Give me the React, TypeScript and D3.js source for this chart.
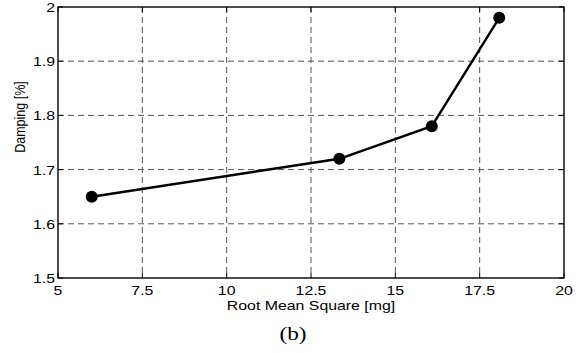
import * as d3 from 'd3';
import React, { useEffect, useRef } from 'react';

// data
const rms = [6.0, 13.34, 16.08, 18.08];
const damping = [1.65, 1.72, 1.78, 1.98];
const xTicks = [5, 7.5, 10, 12.5, 15, 17.5, 20];
const yTicks = [1.5, 1.6, 1.7, 1.8, 1.9, 2];

const W = 582;
const H = 353;

export default function App() {
  const ref = useRef<SVGSVGElement>(null);

  useEffect(() => {
    const svg = d3.select(ref.current);
    svg.selectAll('*').remove();

    // plot box
    const left = 58, right = 564, top = 7, bottom = 278;

    const x = d3.scaleLinear().domain([5, 20]).range([left, right]);
    const y = d3.scaleLinear().domain([1.5, 2]).range([bottom, top]);

    const font = 'Liberation Sans, Arial, sans-serif';
    const sx = 1.22; // the original figure is stretched sideways

    // horizontal text, stretched like the source image
    const label = (tx: number, ty: number, str: string, anchor: string, size: number, family = font) => {
      svg.append('text')
        .attr('transform', `translate(${tx},${ty})scale(${sx},1)`)
        .attr('text-anchor', anchor)
        .attr('font-family', family)
        .attr('font-size', size)
        .text(str);
    };

    // grid
    const grid = svg.append('g')
      .attr('stroke', '#555')
      .attr('stroke-width', 1)
      .attr('stroke-dasharray', '6,4');

    xTicks.slice(1, -1).forEach(t => {
      grid.append('line')
        .attr('x1', x(t)).attr('x2', x(t))
        .attr('y1', top).attr('y2', bottom);
    });
    yTicks.slice(1, -1).forEach(t => {
      grid.append('line')
        .attr('x1', left).attr('x2', right)
        .attr('y1', y(t)).attr('y2', y(t));
    });

    // box
    svg.append('rect')
      .attr('x', left).attr('y', top)
      .attr('width', right - left).attr('height', bottom - top)
      .attr('fill', 'none')
      .attr('stroke', 'black')
      .attr('stroke-width', 1.4);

    // ticks (inward, both sides)
    const ticks = svg.append('g').attr('stroke', 'black').attr('stroke-width', 1);
    xTicks.forEach(t => {
      ticks.append('line').attr('x1', x(t)).attr('x2', x(t)).attr('y1', bottom).attr('y2', bottom - 5);
      ticks.append('line').attr('x1', x(t)).attr('x2', x(t)).attr('y1', top).attr('y2', top + 5);
    });
    yTicks.forEach(t => {
      ticks.append('line').attr('x1', left).attr('x2', left + 5).attr('y1', y(t)).attr('y2', y(t));
      ticks.append('line').attr('x1', right).attr('x2', right - 5).attr('y1', y(t)).attr('y2', y(t));
    });

    // tick labels
    const fmt = d3.format('~g');
    xTicks.forEach(t => label(x(t), bottom + 17, fmt(t), 'middle', 13));
    yTicks.forEach(t => label(left - 3, y(t) + 5, fmt(t), 'end', 13));

    // axis labels
    label((left + right) / 2, 310, 'Root Mean Square [mg]', 'middle', 13);

    svg.append('text')
      .attr('text-anchor', 'middle')
      .attr('font-family', font)
      .attr('font-size', 12.5)
      .attr('transform', `translate(25,117)rotate(-90)scale(1,${sx})`)
      .text('Damping [%]');

    label(293, 340, '(b)', 'middle', 19, 'Liberation Serif, Times New Roman, serif');

    // line + dots
    const pts = rms.map((v, i) => [v, damping[i]] as [number, number]);
    const line = d3.line<[number, number]>()
      .x(d => x(d[0]))
      .y(d => y(d[1]));

    svg.append('path')
      .attr('d', line(pts))
      .attr('fill', 'none')
      .attr('stroke', 'black')
      .attr('stroke-width', 2.4);

    svg.selectAll('circle.dot')
      .data(pts)
      .enter().append('circle')
      .attr('class', 'dot')
      .attr('r', 6)
      .attr('cx', d => x(d[0]))
      .attr('cy', d => y(d[1]))
      .attr('fill', 'black');
  }, []);

  return (
    <svg
      ref={ref}
      width={W}
      height={H}
      style={{ position: 'absolute', left: 0, top: 0, background: 'white' }}
    />
  );
}
